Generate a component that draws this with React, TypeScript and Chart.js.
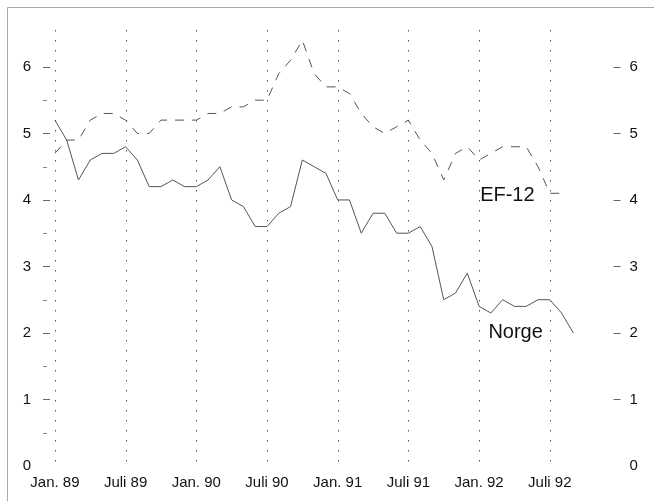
import React, { useEffect, useRef } from "react";
import { Chart, registerables } from "chart.js";

Chart.register(...registerables);

// ---- data (monthly, Jan. 89 = index 0) ----
const norge = [
  5.2, 4.9, 4.3, 4.6, 4.7, 4.7, 4.8, 4.6, 4.2, 4.2, 4.3, 4.2,
  4.2, 4.3, 4.5, 4.0, 3.9, 3.6, 3.6, 3.8, 3.9, 4.6, 4.5, 4.4,
  4.0, 4.0, 3.5, 3.8, 3.8, 3.5, 3.5, 3.6, 3.3, 2.5, 2.6, 2.9,
  2.4, 2.3, 2.5, 2.4, 2.4, 2.5, 2.5, 2.3, 2.0,
];
const ef12 = [
  4.7, 4.9, 4.9, 5.2, 5.3, 5.3, 5.2, 5.0, 5.0, 5.2, 5.2, 5.2,
  5.2, 5.3, 5.3, 5.4, 5.4, 5.5, 5.5, 5.9, 6.1, 6.4, 5.9, 5.7,
  5.7, 5.6, 5.3, 5.1, 5.0, 5.1, 5.2, 4.9, 4.7, 4.3, 4.7, 4.8,
  4.6, 4.7, 4.8, 4.8, 4.8, 4.5, 4.1, 4.1,
];
const tickMonths = [0, 6, 12, 18, 24, 30, 36, 42];
const tickLabels = ["Jan. 89", "Juli 89", "Jan. 90", "Juli 90", "Jan. 91", "Juli 91", "Jan. 92", "Juli 92"];
const yTicks = [0, 1, 2, 3, 4, 5, 6];
const yMinorTicks = [0.5, 1.5, 2.5, 3.5, 4.5, 5.5];
const seriesNames = ["Norge", "EF-12"];
// label anchors in data units (month index, value)
const seriesLabelAt = [
  { x: 39.1, y: 2.0 },
  { x: 38.4, y: 4.06 },
];

const FONT = '"Liberation Sans", Arial, Helvetica, sans-serif';
const INK = "#111";
const LINE = "#555";

const decorPlugin = {
  id: "decor",
  beforeDatasetsDraw(chart: any) {
    const { ctx, chartArea, scales } = chart;
    const xs = scales.x;
    const ys = scales.y;
    ctx.save();
    // scan frame (top & left edges)
    ctx.strokeStyle = "#a8a8a8";
    ctx.lineWidth = 1;
    ctx.beginPath();
    ctx.moveTo(7.5, chart.height);
    ctx.lineTo(7.5, 7.5);
    ctx.lineTo(chart.width, 7.5);
    ctx.stroke();

    // vertical dotted lines at tick months
    ctx.strokeStyle = "#555";
    ctx.setLineDash([1.5, 8.5]);
    for (const m of tickMonths) {
      const px = Math.round(xs.getPixelForValue(m)) + 0.5;
      ctx.beginPath();
      ctx.moveTo(px, chartArea.top + 3);
      ctx.lineTo(px, ys.getPixelForValue(0));
      ctx.stroke();
    }
    ctx.setLineDash([]);

    // y tick marks
    ctx.strokeStyle = "#666";
    for (const v of yTicks) {
      const py = Math.round(ys.getPixelForValue(v)) + 0.5;
      if (v > 0) {
        ctx.beginPath();
        ctx.moveTo(chartArea.left - 6, py);
        ctx.lineTo(chartArea.left + 1, py);
        ctx.stroke();
        ctx.beginPath();
        ctx.moveTo(chartArea.right - 1, py);
        ctx.lineTo(chartArea.right + 6, py);
        ctx.stroke();
      }
    }
    ctx.strokeStyle = "#888";
    for (const v of yMinorTicks) {
      const py = Math.round(ys.getPixelForValue(v)) + 0.5;
      ctx.beginPath();
      ctx.moveTo(chartArea.left - 6, py);
      ctx.lineTo(chartArea.left - 2, py);
      ctx.stroke();
    }
    ctx.restore();
  },
  afterDatasetsDraw(chart: any) {
    const { ctx, scales } = chart;
    ctx.save();
    ctx.fillStyle = INK;
    ctx.font = `20px ${FONT}`;
    ctx.textAlign = "center";
    ctx.textBaseline = "middle";
    seriesNames.forEach((name, i) => {
      const p = seriesLabelAt[i];
      ctx.fillText(name, scales.x.getPixelForValue(p.x), scales.y.getPixelForValue(p.y));
    });
    ctx.restore();
  },
};

export default function App() {
  const ref = useRef<HTMLCanvasElement | null>(null);

  useEffect(() => {
    if (!ref.current) return;
    const tickFont = { family: FONT, size: 15 };
    const yScaleBase = {
      min: 0,
      max: 6.6,
      grid: { display: false, drawTicks: false },
      border: { display: false },
      afterBuildTicks: (s: any) => {
        s.ticks = yTicks.map((v) => ({ value: v }));
      },
    };
    const chart = new Chart(ref.current, {
      type: "line",
      data: {
        datasets: [
          {
            label: seriesNames[0],
            data: norge.map((v, i) => ({ x: i, y: v })),
            borderColor: LINE,
            borderWidth: 1,
            pointRadius: 0,
            tension: 0,
            fill: false,
          },
          {
            label: seriesNames[1],
            data: ef12.map((v, i) => ({ x: i, y: v })),
            borderColor: LINE,
            borderWidth: 1,
            borderDash: [9, 8],
            pointRadius: 0,
            tension: 0,
            fill: false,
          },
        ],
      },
      options: {
        animation: false,
        responsive: false,
        devicePixelRatio: 1,
        layout: { padding: { top: 17.5, left: 0, right: 0, bottom: 0 } },
        plugins: {
          legend: { display: false },
          tooltip: { enabled: false },
          title: { display: false },
        },
        scales: {
          x: {
            type: "linear",
            position: "bottom",
            min: -0.5,
            max: 47.5,
            grid: { display: false, drawTicks: false },
            border: { display: false },
            afterBuildTicks: (s: any) => {
              s.ticks = tickMonths.map((v) => ({ value: v }));
            },
            afterFit: (s: any) => {
              s.height = 35;
            },
            ticks: {
              autoSkip: false,
              maxRotation: 0,
              minRotation: 0,
              padding: 8,
              color: INK,
              font: tickFont,
              callback: (value: any) => {
                const i = tickMonths.indexOf(Number(value));
                return i >= 0 ? tickLabels[i] : "";
              },
            },
          },
          y: {
            ...yScaleBase,
            position: "left",
            afterFit: (s: any) => {
              s.width = 49;
            },
            ticks: { padding: 18, color: INK, font: tickFont },
          },
          y2: {
            ...yScaleBase,
            position: "right",
            afterFit: (s: any) => {
              s.width = 39.4;
            },
            ticks: { padding: 15, color: INK, font: tickFont },
          },
        },
      } as any,
      plugins: [decorPlugin],
    });
    return () => chart.destroy();
  }, []);

  return (
    <div style={{ position: "fixed", left: 0, top: 0, width: 654, height: 501, background: "#fff" }}>
      <canvas ref={ref} width={654} height={501} style={{ display: "block" }} />
    </div>
  );
}
